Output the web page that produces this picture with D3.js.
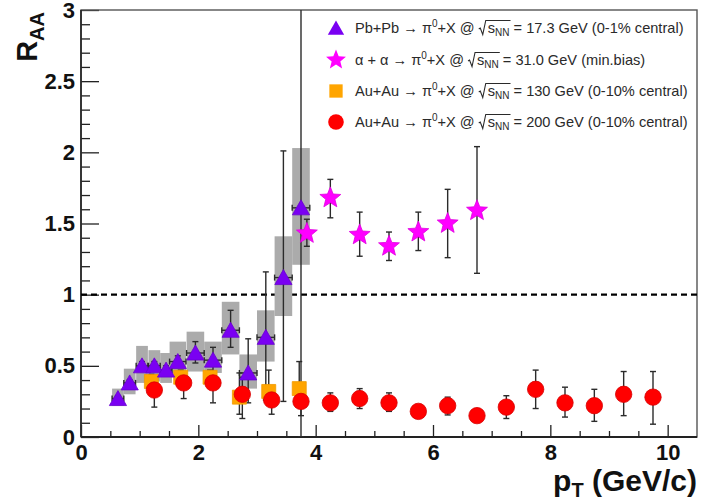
<!DOCTYPE html>
<html>
<head>
<meta charset="utf-8">
<title>Nuclear modification factor of neutral pions</title>
<script src="https://d3js.org/d3.v7.min.js"></script>
<style>
  html, body { margin: 0; padding: 0; background: #fff; }
  svg { display: block; }
  text { font-family: "Liberation Sans", Arial, Helvetica, sans-serif; }
</style>
</head>
<body>
<svg id="chart" width="701" height="503"></svg>
<script>
// Pb+Pb -> pi0+X at sqrt(sNN) = 17.3 GeV (0-1% central)
const pbPt     = [0.63, 0.83, 1.04, 1.25, 1.45, 1.65, 1.95, 2.25, 2.55, 2.85, 3.15, 3.45, 3.75];
const pbRaa    = [0.27, 0.38, 0.50, 0.50, 0.47, 0.53, 0.59, 0.54, 0.75, 0.45, 0.70, 1.12, 1.61];
const pbStatLo = [0.02, 0.02, 0.03, 0.03, 0.03, 0.04, 0.07, 0.08, 0.12, 0.21, 0.44, 0.87, 1.61];
const pbStatHi = [0.02, 0.02, 0.03, 0.03, 0.03, 0.04, 0.08, 0.09, 0.14, 0.24, 0.46, 0.89, 1.50];
const pbPtErr  = [0.10, 0.10, 0.10, 0.10, 0.10, 0.14, 0.15, 0.15, 0.15, 0.15, 0.15, 0.15, 0.15];
const pbSysLo  = [0.05, 0.08, 0.12, 0.11, 0.09, 0.09, 0.13, 0.09, 0.17, 0.11, 0.17, 0.27, 0.40];
const pbSysHi  = [0.07, 0.10, 0.14, 0.11, 0.12, 0.14, 0.15, 0.13, 0.20, 0.13, 0.19, 0.29, 0.42];

// alpha+alpha -> pi0+X at sqrt(sNN) = 31.0 GeV (min. bias)
const aaPt    = [3.85, 4.25, 4.75, 5.25, 5.75, 6.25, 6.75];
const aaRaa   = [1.43, 1.68, 1.42, 1.34, 1.44, 1.50, 1.59];
const aaErrLo = [0.09, 0.14, 0.15, 0.10, 0.13, 0.24, 0.44];
const aaErrHi = [0.10, 0.13, 0.16, 0.10, 0.14, 0.24, 0.45];

// Au+Au -> pi0+X at sqrt(sNN) = 130 GeV (0-10% central)
const au130Pt    = [1.20, 1.70, 2.20, 2.70, 3.20, 3.72];
const au130Raa   = [0.39, 0.42, 0.42, 0.28, 0.32, 0.34];
const au130ErrLo = [0.05, 0.05, 0.05, 0.12, 0.08, 0.10];
const au130ErrHi = [0.05, 0.05, 0.05, 0.17, 0.15, 0.19];

// Au+Au -> pi0+X at sqrt(sNN) = 200 GeV (0-10% central)
const au200Pt    = [1.25, 1.75, 2.25, 2.75, 3.25, 3.75, 4.25, 4.75, 5.25, 5.75, 6.25, 6.75, 7.25, 7.75, 8.25, 8.75, 9.25, 9.75];
const au200Raa   = [0.33, 0.38, 0.38, 0.30, 0.26, 0.25, 0.24, 0.27, 0.24, 0.18, 0.22, 0.15, 0.21, 0.335, 0.24, 0.22, 0.30, 0.28];
const au200ErrLo = [0.12, 0.11, 0.14, 0.17, 0.10, 0.10, 0.06, 0.07, 0.06, 0.03, 0.065, 0.03, 0.08, 0.135, 0.10, 0.11, 0.15, 0.19];
const au200ErrHi = [0.07, 0.05, 0.05, 0.12, 0.08, 0.06, 0.07, 0.07, 0.07, 0.03, 0.06, 0.03, 0.08, 0.135, 0.11, 0.115, 0.16, 0.18];

// Axis ticks and labels
const xMajorTicks = [0, 2, 4, 6, 8, 10];
const yMajorTicks = [0, 0.5, 1, 1.5, 2, 2.5, 3];
const xTitle = ["p", "T", " (GeV/c)"];
const yTitle = ["R", "AA"];
const referenceLevel = 1;

// Legend rows: text before the pi0 superscript, and text after sqrt(sNN)
const legendLead = ["Pb+Pb \u2192 \u03c0", "\u03b1 + \u03b1 \u2192 \u03c0", "Au+Au \u2192 \u03c0", "Au+Au \u2192 \u03c0"];
const legendTail = [" = 17.3 GeV (0-1% central)", " = 31.0 GeV (min.bias)", " = 130 GeV (0-10% central)", " = 200 GeV (0-10% central)"];

// ---------------------------------------------------------------
const svg = d3.select("#chart");
const W = 701, H = 503;
svg.append("rect").attr("width", W).attr("height", H).attr("fill", "#fff");

const frame = { left: 81, right: 697, top: 10, bottom: 437 };
const x = d3.scaleLinear().domain([0, 10.5]).range([frame.left, frame.right]);
const y = d3.scaleLinear().domain([0, 3]).range([frame.bottom, frame.top]);

const colors = {
  pb: "#7a00f2",
  aa: "#ff00ff",
  au130: "#ffa500",
  au200: "#ff0000",
  sys: "#ababab",
  err: "#2b2b2b",
  axis: "#222"
};

svg.append("defs").append("clipPath").attr("id", "plotClip")
  .append("rect")
  .attr("x", frame.left).attr("y", frame.top)
  .attr("width", frame.right - frame.left).attr("height", frame.bottom - frame.top);

// Axes with ticks pointing into the frame
const minorX = d3.range(0.5, 10.5, 0.5).filter(v => v % 2 !== 0);
const minorY = d3.range(1, 30).map(i => i / 10).filter(v => Math.round(v * 10) % 5 !== 0);

const tickFont = "bold 22px 'Liberation Sans', Arial, sans-serif";

const gx = svg.append("g").attr("transform", `translate(0,${frame.bottom})`);
gx.call(d3.axisBottom(x).tickValues(xMajorTicks).tickSize(-12).tickPadding(7).tickFormat(d3.format("d")));
gx.call(g => g.append("g").call(d3.axisBottom(x).tickValues(minorX).tickSize(-6).tickFormat("")));

const gy = svg.append("g").attr("transform", `translate(${frame.left},0)`);
gy.call(d3.axisLeft(y).tickValues(yMajorTicks).tickSize(-18).tickPadding(6).tickFormat(d => String(d)));
gy.call(g => g.append("g").call(d3.axisLeft(y).tickValues(minorY).tickSize(-9).tickFormat("")));

svg.selectAll(".domain").remove();
svg.selectAll(".tick line").attr("stroke", colors.axis).attr("stroke-width", 1.3);
svg.selectAll(".tick text")
  .attr("fill", "#111")
  .style("font", tickFont);

// Frame
svg.append("rect")
  .attr("x", frame.left).attr("y", frame.top)
  .attr("width", frame.right - frame.left).attr("height", frame.bottom - frame.top)
  .attr("fill", "none").attr("stroke", "#555").attr("stroke-width", 1.4);
svg.append("line")
  .attr("x1", frame.left).attr("x2", frame.right)
  .attr("y1", frame.bottom).attr("y2", frame.bottom)
  .attr("stroke", colors.axis).attr("stroke-width", 1.8);
svg.append("line")
  .attr("x1", frame.left).attr("x2", frame.left)
  .attr("y1", frame.top).attr("y2", frame.bottom)
  .attr("stroke", colors.axis).attr("stroke-width", 1.6);

// Axis titles
const yt = svg.append("text")
  .attr("transform", `translate(37,${frame.top + 2}) rotate(-90)`)
  .attr("text-anchor", "end")
  .attr("fill", "#111")
  .style("font-weight", "bold");
yt.append("tspan").style("font-size", "29px").text(yTitle[0]);
yt.append("tspan").style("font-size", "20px").attr("dy", 7).text(yTitle[1]);

const xt = svg.append("text")
  .attr("x", frame.right).attr("y", 491)
  .attr("text-anchor", "end")
  .attr("fill", "#111")
  .style("font-weight", "bold");
xt.append("tspan").style("font-size", "30px").text(xTitle[0]);
xt.append("tspan").style("font-size", "20px").attr("dy", 6).text(xTitle[1]);
xt.append("tspan").style("font-size", "30px").attr("dy", -6).text(xTitle[2]);

// Plot contents
const plot = svg.append("g").attr("clip-path", "url(#plotClip)");

// Dashed reference line at R_AA = 1
plot.append("line")
  .attr("x1", frame.left).attr("x2", frame.right)
  .attr("y1", y(referenceLevel)).attr("y2", y(referenceLevel))
  .attr("stroke", "#000").attr("stroke-width", 2.2)
  .attr("stroke-dasharray", "6,4");

// Systematic boxes for Pb+Pb
plot.append("g").selectAll("rect")
  .data(pbPt.map((p, i) => i))
  .join("rect")
  .attr("x", i => x(pbPt[i] - pbPtErr[i]))
  .attr("width", i => x(pbPt[i] + pbPtErr[i]) - x(pbPt[i] - pbPtErr[i]))
  .attr("y", i => y(pbRaa[i] + pbSysHi[i]))
  .attr("height", i => y(pbRaa[i] - pbSysLo[i]) - y(pbRaa[i] + pbSysHi[i]))
  .attr("fill", colors.sys);

// Error bar helpers
const errG = plot.append("g").attr("stroke", colors.err).attr("stroke-width", 1.4).attr("fill", "none");
function vErr(p, v, lo, hi) {
  const cx = x(p), y0 = y(v - lo), y1 = y(v + hi);
  errG.append("line").attr("x1", cx).attr("x2", cx).attr("y1", y0).attr("y2", y1);
  errG.append("line").attr("x1", cx - 3).attr("x2", cx + 3).attr("y1", y0).attr("y2", y0);
  errG.append("line").attr("x1", cx - 3).attr("x2", cx + 3).attr("y1", y1).attr("y2", y1);
}
function hErr(p, v, dp) {
  const cy = y(v), x0 = x(p - dp), x1 = x(p + dp);
  errG.append("line").attr("x1", x0).attr("x2", x1).attr("y1", cy).attr("y2", cy);
  errG.append("line").attr("x1", x0).attr("x2", x0).attr("y1", cy - 3).attr("y2", cy + 3);
  errG.append("line").attr("x1", x1).attr("x2", x1).attr("y1", cy - 3).attr("y2", cy + 3);
}

au130Pt.forEach((p, i) => vErr(p, au130Raa[i], au130ErrLo[i], au130ErrHi[i]));
au200Pt.forEach((p, i) => vErr(p, au200Raa[i], au200ErrLo[i], au200ErrHi[i]));
aaPt.forEach((p, i) => vErr(p, aaRaa[i], aaErrLo[i], aaErrHi[i]));
pbPt.forEach((p, i) => { vErr(p, pbRaa[i], pbStatLo[i], pbStatHi[i]); hErr(p, pbRaa[i], pbPtErr[i]); });

// Marker shapes
const shapes = {
  triangle: s => `M0,${-8 * s}L${8.6 * s},${7 * s}L${-8.6 * s},${7 * s}Z`,
  square: s => `M${-7 * s},${-7 * s}h${14 * s}v${14 * s}h${-14 * s}Z`,
  circle: s => d3.symbol(d3.symbolCircle, Math.PI * (8.2 * s) * (8.2 * s))(),
  star: s => {
    const ro = 11 * s, ri = 4.8 * s;
    const pts = d3.range(10).map(k => {
      const r = k % 2 === 0 ? ro : ri;
      const a = -Math.PI / 2 + k * Math.PI / 5;
      return [r * Math.cos(a), r * Math.sin(a)];
    });
    return "M" + pts.map(q => q.join(",")).join("L") + "Z";
  }
};

function markers(pts, vals, shape, fill, stroke) {
  plot.append("g").selectAll("path")
    .data(pts.map((p, i) => i))
    .join("path")
    .attr("transform", i => `translate(${x(pts[i])},${y(vals[i])})`)
    .attr("d", shapes[shape](1))
    .attr("fill", fill)
    .attr("stroke", stroke)
    .attr("stroke-width", 0.8);
}

markers(au130Pt, au130Raa, "square", colors.au130, "#f09a00");
markers(au200Pt, au200Raa, "circle", colors.au200, "#d60000");
markers(pbPt, pbRaa, "triangle", colors.pb, "#6a00d0");
markers(aaPt, aaRaa, "star", colors.aa, "#e000e0");

// Legend
const legendShapes = ["triangle", "star", "square", "circle"];
const legendFill = [colors.pb, colors.aa, colors.au130, colors.au200];
const legendRowY = [28, 60, 91, 122];
const legend = svg.append("g");
const fs = 14.6;

legendLead.forEach((lead, i) => {
  const cy = legendRowY[i];
  legend.append("path")
    .attr("transform", `translate(336,${cy})`)
    .attr("d", shapes[legendShapes[i]](0.95))
    .attr("fill", legendFill[i]);

  const base = cy + 5;
  const t = legend.append("text")
    .attr("x", 355).attr("y", base)
    .attr("fill", "#2a2a2a")
    .style("font-size", fs + "px");
  t.append("tspan").text(lead);
  t.append("tspan").style("font-size", "10px").attr("dy", -6).text("0");
  t.append("tspan").attr("dy", 6).text("+X @ ");
  const sT = t.append("tspan").attr("dx", 9).text("s");
  const nT = t.append("tspan").style("font-size", "10px").attr("dy", 3).text("NN");
  t.append("tspan").attr("dy", -3).text(legendTail[i]);

  const sb = sT.node().getBBox();
  const nb = nT.node().getBBox();
  const left = sb.x, right = nb.x + nb.width + 1;
  const top = base - 12.5;
  legend.append("path")
    .attr("d", `M${left - 9},${base - 4}L${left - 7.5},${base - 5}L${left - 5},${base + 1.5}L${left - 2},${top}L${right},${top}`)
    .attr("fill", "none").attr("stroke", "#2a2a2a").attr("stroke-width", 1.1);
});
</script>
</body>
</html>
